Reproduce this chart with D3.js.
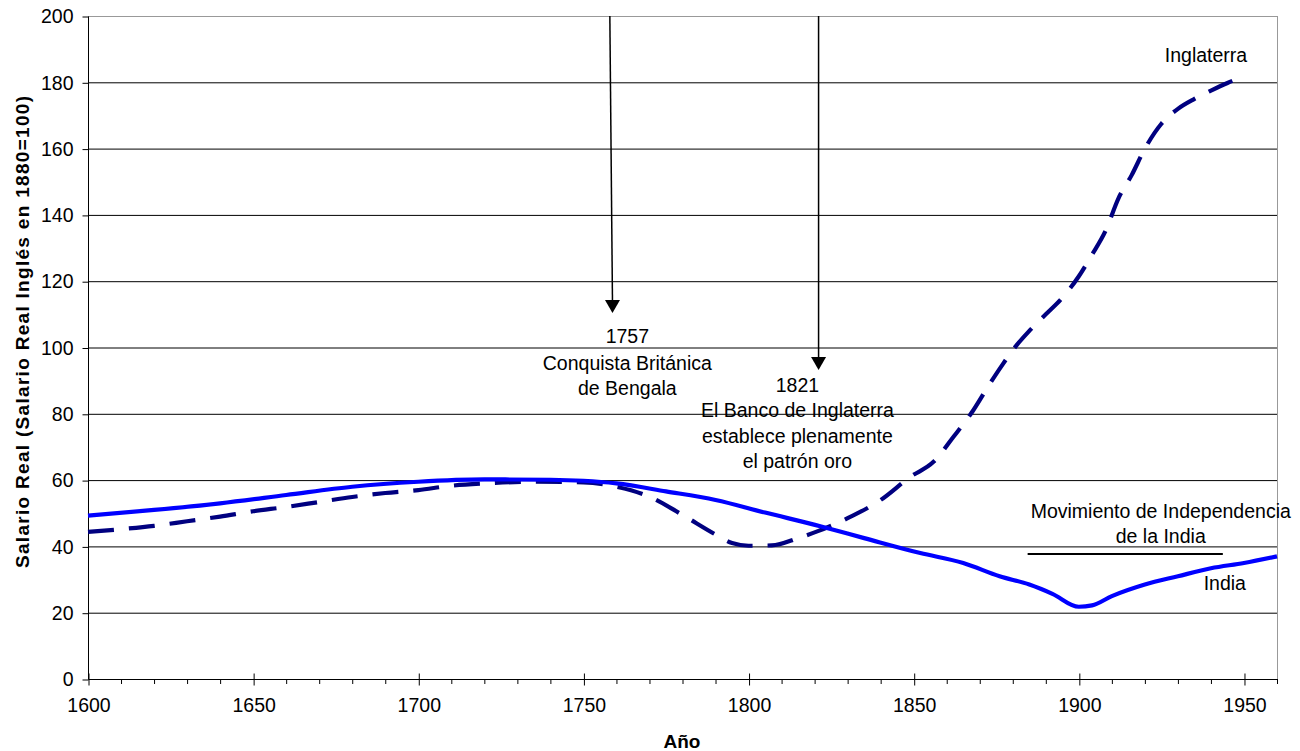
<!DOCTYPE html>
<html><head><meta charset="utf-8">
<script src="https://cdn.jsdelivr.net/npm/d3@7/dist/d3.min.js"></script>
<style>
body{margin:0;background:#fff;}
svg text{font-family:"Liberation Sans",Arial,sans-serif;fill:#000;}
</style></head>
<body><svg id="c" width="1300" height="751"></svg>
<script>
// ---- data ----
const indiaYears = [1600,1620,1640,1660,1680,1700,1720,1740,1750,1760,1775,1790,1805,1822,1835,1852,1865,1876,1885,1892,1900,1904,1910,1920,1930,1940,1950,1960];
const indiaValues = [49.3,51,53,55.5,58,59.5,60.2,60.1,59.8,59,56.6,54,50.2,46,42.5,38,35,31,28.5,25.7,21.8,22.2,25,28.5,31,33.4,35,37];
const englandYears = [1600,1610,1620,1630,1640,1650,1660,1670,1680,1690,1700,1710,1720,1735,1750,1760,1770,1780,1790,1795,1800,1807,1815,1821,1830,1840,1849,1856,1862,1868,1873,1877,1881,1885,1890,1895,1900,1904,1908,1912,1916,1920,1925,1930,1935,1940,1945,1950];
const englandValues = [44.4,45.2,46.2,47.6,49,50.6,51.9,53.4,54.9,56.1,57,58.3,59,59.5,59.3,58,55,49.5,43.6,41,40.2,40.3,42.5,44.6,48.5,54,61,65.5,73,81,89,95,100.5,105,110,115,121.5,128,135,145,152,160,167.5,172,175,177.5,179.8,181.8];
const yTicks = [0,20,40,60,80,100,120,140,160,180,200];
const xTicks = [1600,1650,1700,1750,1800,1850,1900,1950];
const arrows = [ {yearTop:1758, yearTip:1758.8, tip:110.4}, {yearTop:1821.2, yearTip:1821.2, tip:93.2} ];
const notes = [
  {lines:["1757","Conquista Británica","de Bengala"], year:1763.3, baseline:[343,370,395]},
  {lines:["1821","El Banco de Inglaterra","establece plenamente","el patrón oro"], year:1814.8, baseline:[392,417,443,468]}
];
const independence = {from:1884.5, to:1943.6, value:38, label:["Movimiento de Independencia","de la India"], labelYear:1924.8};
const seriesLabels = [{text:"Inglaterra", year:1938.5, baseline:62},{text:"India", year:1944.2, baseline:590}];

// ---- layout ----
const FS = "19.5px";
const svg = d3.select("#c");
const x = d3.scaleLinear().domain([1600,1960]).range([88,1277]);
const y = d3.scaleLinear().domain([0,200]).range([679,16]);

// gridlines
svg.append("g").selectAll("line").data(yTicks.filter(d=>d>0 && d<200)).join("line")
  .attr("x1",x(1600)).attr("x2",x(1960)).attr("y1",d=>y(d)+0.5).attr("y2",d=>y(d)+0.5)
  .attr("stroke","#000").attr("stroke-width",1);
// plot border top/right gray
svg.append("line").attr("x1",x(1600)).attr("x2",x(1960)+0.5).attr("y1",y(200)+0.5).attr("y2",y(200)+0.5).attr("stroke","#999");
svg.append("line").attr("x1",x(1960)+0.5).attr("x2",x(1960)+0.5).attr("y1",y(200)).attr("y2",y(0)).attr("stroke","#999");

// y axis
const yAxis = d3.axisLeft(y).tickValues(yTicks).tickSize(6).tickPadding(9);
const gy = svg.append("g").attr("transform",`translate(${x(1600)+0.5},0.5)`).call(yAxis);
gy.select(".domain").attr("stroke","#000").attr("d",`M0,${y(200)}V${y(0)}`);
gy.selectAll("text").style("font-size",FS).attr("font-family","Liberation Sans, Arial, sans-serif");

// x axis minor
const minor = d3.range(1600,1961,10).filter(d=>d%50!==0);
svg.append("g").selectAll("line").data(minor).join("line")
  .attr("x1",d=>x(d)+0.5).attr("x2",d=>x(d)+0.5).attr("y1",y(0)).attr("y2",y(0)+5).attr("stroke","#000");
const xAxis = d3.axisBottom(x).tickValues(xTicks).tickFormat(d3.format("d")).tickSize(6).tickPadding(13);
const gx = svg.append("g").attr("transform",`translate(0.5,${y(0)+0.5})`).call(xAxis);
gx.select(".domain").attr("d",`M${x(1600)},0H${x(1960)}`).attr("stroke","#000");
gx.selectAll(".tick line").attr("y1",-6);
gx.selectAll("text").style("font-size",FS).attr("font-family","Liberation Sans, Arial, sans-serif");

// axis titles
svg.append("text").attr("transform",`translate(29,332) rotate(-90)`).attr("text-anchor","middle")
  .style("font-size","19px").style("font-weight","bold").attr("textLength",472).attr("lengthAdjust","spacing")
  .text("Salario Real (Salario Real Inglés en 1880=100)");
svg.append("text").attr("x",682).attr("y",748).attr("text-anchor","middle")
  .style("font-size","19px").style("font-weight","bold").text("Año");

// lines
const line = d3.line().x(d=>x(d[0])).y(d=>y(d[1])).curve(d3.curveMonotoneX);
svg.append("path").datum(englandYears.map((d,i)=>[d,englandValues[i]]))
  .attr("d",line).attr("fill","none").attr("stroke","#000080").attr("stroke-width",4.2)
  .attr("stroke-dasharray","26,15");
svg.append("path").datum(indiaYears.map((d,i)=>[d,indiaValues[i]]))
  .attr("d",line).attr("fill","none").attr("stroke","#0000ff").attr("stroke-width",4.2);

// arrows
arrows.forEach(a=>{
  const xt = x(a.yearTop), xb = x(a.yearTip), yt = y(a.tip);
  svg.append("line").attr("x1",xt).attr("y1",y(200)).attr("x2",xb).attr("y2",yt-10)
    .attr("stroke","#000").attr("stroke-width",1.5);
  svg.append("path").attr("d",`M${xb-7.5},${yt-13}L${xb+7.5},${yt-13}L${xb},${yt}Z`).attr("fill","#000");
});

// notes
notes.forEach(n=>{
  n.lines.forEach((t,i)=>{
    svg.append("text").attr("x",x(n.year)).attr("y",n.baseline[i]).attr("text-anchor","middle")
      .style("font-size",FS).text(t);
  });
});

// independence
svg.append("line").attr("x1",x(independence.from)).attr("x2",x(independence.to))
  .attr("y1",554).attr("y2",554).attr("stroke","#000").attr("stroke-width",2);
svg.append("text").attr("x",x(independence.labelYear)).attr("y",518).attr("text-anchor","middle")
  .style("font-size",FS).text(independence.label[0]);
svg.append("text").attr("x",x(independence.labelYear)).attr("y",543).attr("text-anchor","middle")
  .style("font-size",FS).text(independence.label[1]);

seriesLabels.forEach(s=>{
  svg.append("text").attr("x",x(s.year)).attr("y",s.baseline).attr("text-anchor","middle")
    .style("font-size",FS).text(s.text);
});
</script></body></html>
